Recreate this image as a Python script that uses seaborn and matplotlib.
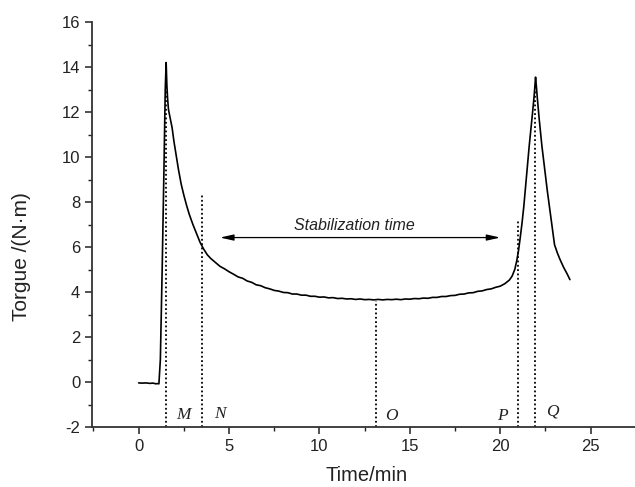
import matplotlib
matplotlib.use("Agg")
import matplotlib.pyplot as plt
from matplotlib.ticker import MultipleLocator
import seaborn as sns
import pandas as pd

# Torque trace (time in min, torque in N·m)
time_min = [
    0.0, 0.2, 0.4, 0.6, 0.8, 0.95, 1.05, 1.12, 1.2, 1.3, 1.4, 1.47, 1.52,
    1.56, 1.6, 1.65, 1.75, 1.85, 1.95, 2.05, 2.2, 2.35, 2.5, 2.65, 2.8,
    3.0, 3.2, 3.4, 3.6, 3.8, 4.0, 4.25, 4.5, 4.75, 5.0, 5.25, 5.5, 5.75,
    6.0, 6.25, 6.5, 6.75, 7.0, 7.25, 7.5, 7.75, 8.0, 8.25, 8.5, 8.75,
    9.0, 9.25, 9.5, 9.75, 10.0, 10.25, 10.5, 10.75, 11.0, 11.25, 11.5,
    11.75, 12.0, 12.25, 12.5, 12.75, 13.0, 13.25, 13.5, 13.75, 14.0,
    14.25, 14.5, 14.75, 15.0, 15.25, 15.5, 15.75, 16.0, 16.25, 16.5,
    16.75, 17.0, 17.25, 17.5, 17.75, 18.0, 18.25, 18.5, 18.75, 19.0,
    19.25, 19.5, 19.75, 20.0, 20.25, 20.5, 20.65, 20.8, 20.9, 21.0, 21.1,
    21.2, 21.3, 21.4, 21.5, 21.6, 21.7, 21.8, 21.88, 21.95, 22.0, 22.05,
    22.15, 22.3, 22.45, 22.6, 22.75, 22.9, 23.0, 23.15, 23.3, 23.5, 23.7,
    23.85,
]
torque = [
    -0.04, -0.05, -0.04, -0.06, -0.05, -0.08, -0.07, -0.08, 1.0, 5.0, 9.5, 13.0, 14.2,
    13.2, 12.6, 12.1, 11.7, 11.3, 10.7, 10.2, 9.45, 8.8, 8.3, 7.85, 7.45,
    7.0, 6.6, 6.2, 5.9, 5.65, 5.48, 5.31, 5.14, 5.03, 4.9, 4.79, 4.67, 4.61,
    4.49, 4.43, 4.32, 4.28, 4.19, 4.14, 4.07, 4.04, 3.98, 3.97, 3.91, 3.91,
    3.86, 3.86, 3.81, 3.81, 3.77, 3.78, 3.74, 3.75, 3.71, 3.72, 3.69,
    3.70, 3.67, 3.69, 3.66, 3.67, 3.65, 3.67, 3.65, 3.67, 3.66,
    3.68, 3.66, 3.69, 3.68, 3.71, 3.70, 3.73, 3.72, 3.76, 3.76,
    3.80, 3.80, 3.84, 3.85, 3.90, 3.91, 3.96, 3.97, 4.03, 4.05,
    4.11, 4.14, 4.21, 4.26, 4.37, 4.53, 4.7, 5.0, 5.35, 5.8, 6.4,
    7.05, 7.8, 8.7, 9.6, 10.5, 11.3, 12.1, 12.8, 13.55, 13.1, 12.6,
    11.7, 10.5, 9.5, 8.5, 7.6, 6.7, 6.1, 5.75, 5.45, 5.1, 4.8,
    4.55,
]

# Characteristic points M–Q: position, top of marker line, label placement
point_names = ["M", "N", "O", "P", "Q"]
point_times = [1.51, 3.48, 13.15, 20.97, 21.92]
point_tops = [13.0, 8.3, 3.62, 7.2, 13.0]
label_x = [2.48, 4.47, 13.95, 20.1, 22.85]
label_y = [-1.48, -1.4, -1.5, -1.5, -1.33]

span_start, span_end, span_level = 4.5, 20.0, 6.42
span_text = "Stabilization time"

x_ticks = [0, 5, 10, 15, 20, 25]
y_ticks = [-2, 0, 2, 4, 6, 8, 10, 12, 14, 16]

sns.set_style("ticks")
plt.rcParams["font.family"] = ["Liberation Sans", "DejaVu Sans"]
plt.rcParams["axes.unicode_minus"] = False

fig = plt.figure(figsize=(6.35, 4.87), dpi=100)
ax = fig.add_axes([0.1449, 0.1232, 0.8551, 0.8316])

df = pd.DataFrame({"Time/min": time_min, "Torque": torque})
sns.lineplot(data=df, x="Time/min", y="Torque", ax=ax, color="black",
             linewidth=1.2, estimator=None, sort=False)

ax.set_xlim(-2.58, 27.45)
ax.set_ylim(-2, 16)

for t, top in zip(point_times, point_tops):
    ax.vlines(t, -2, top, colors="black", linewidth=1.3,
              linestyles=(0, (1, 1.4)))

for name, lx, ly in zip(point_names, label_x, label_y):
    ax.text(lx, ly, name, family="Liberation Serif", style="italic",
            fontsize=12.5, ha="center", va="center", color="#222222")

ax.annotate("", xy=(span_start, span_level), xytext=(span_end, span_level),
            arrowprops=dict(arrowstyle="<|-|>,head_length=0.8,head_width=0.18",
                            color="black", linewidth=0.9, shrinkA=0, shrinkB=0))
ax.text((span_start + span_end) / 2 - 0.3, 6.97, span_text, style="italic",
        fontsize=11.5, ha="center", va="center", color="#222222")

ax.set_xticks(x_ticks)
ax.set_yticks(y_ticks)
ax.xaxis.set_minor_locator(MultipleLocator(2.5))
ax.yaxis.set_minor_locator(MultipleLocator(1))
ax.tick_params(which="major", length=5, width=1.1, labelsize=12,
               colors="#222222", pad=3.5)
ax.tick_params(which="minor", length=3, width=1.0, colors="#222222")

for side in ["top", "right"]:
    ax.spines[side].set_visible(False)
for side in ["left", "bottom"]:
    ax.spines[side].set_linewidth(1.3)
    ax.spines[side].set_color("#333333")

ax.set_xlabel("Time/min", fontsize=14.5, color="#222222")
ax.set_ylabel("Torgue /(N·m)", fontsize=15, color="#222222")
ax.xaxis.label.set_va("center")
ax.yaxis.label.set_va("center")
ax.xaxis.set_label_coords(0.505, -0.12)
ax.yaxis.set_label_coords(-0.129, 0.42)

fig.savefig("out.png", dpi=100)
